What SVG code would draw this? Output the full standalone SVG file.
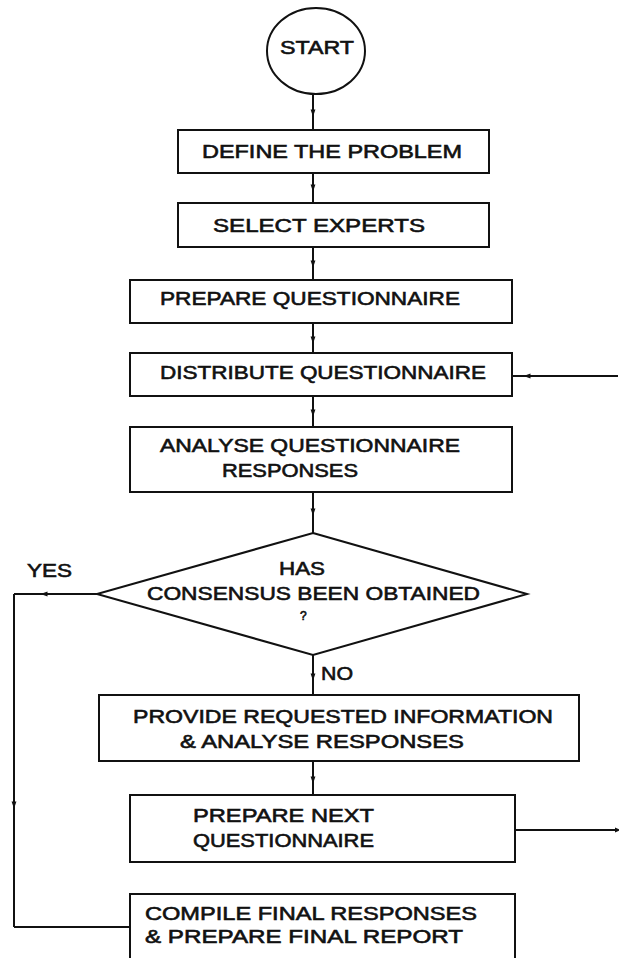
<svg xmlns="http://www.w3.org/2000/svg" width="619" height="958" viewBox="0 0 619 958">
<style>
.box{fill:#fff;stroke:#111;stroke-width:2}
.ln{fill:none;stroke:#111;stroke-width:2}
.t{font-family:"Liberation Sans",Arial,sans-serif;font-weight:normal;font-size:19px;fill:#111;stroke:#111;stroke-width:0.6}
</style>
<defs>
<marker id="ah" viewBox="0 0 10 10" refX="5" refY="5" markerWidth="6" markerHeight="6" orient="auto" markerUnits="userSpaceOnUse">
<path d="M0,1 L10,5 L0,9 Z" fill="#111"/>
</marker>
<marker id="ahb" viewBox="0 0 10 10" refX="5" refY="5" markerWidth="8" markerHeight="7" orient="auto" markerUnits="userSpaceOnUse">
<path d="M0,1.5 L10,5 L0,8.5 Z" fill="#111"/>
</marker>
</defs>
<rect width="619" height="958" fill="#fff"/>
<g id="connectors">
<path class="ln" d="M313,94 L313,113 L313,130" marker-mid="url(#ahb)"/>
<path class="ln" d="M313,173 L313,188 L313,203" marker-mid="url(#ahb)"/>
<path class="ln" d="M313,247 L313,264 L313,280" marker-mid="url(#ahb)"/>
<path class="ln" d="M313,323 L313,340 L313,353" marker-mid="url(#ahb)"/>
<path class="ln" d="M313,396 L313,413 L313,427" marker-mid="url(#ahb)"/>
<path class="ln" d="M313,492 L313,512 L313,533" marker-mid="url(#ahb)"/>
<path class="ln" d="M313,655 L313,677 L313,695" marker-mid="url(#ahb)"/>
<path class="ln" d="M313,761 L313,780 L313,795" marker-mid="url(#ahb)"/>
<path class="ln" d="M618,376 L527,376 L512,376" marker-mid="url(#ahb)"/>
<path class="ln" d="M515,830 L618,830" marker-end="url(#ah)"/>
<path class="ln" d="M97,594 L44,594 L14,594" marker-mid="url(#ahb)"/>
<path class="ln" d="M14,594 L14,805 L14,927" marker-mid="url(#ahb)"/>
<path class="ln" d="M14,927 L130,927"/>
</g>
<g id="start">
<ellipse class="box" cx="316" cy="51" rx="49" ry="43"/>
<text class="t" x="280" y="54" textLength="74" lengthAdjust="spacingAndGlyphs">START</text>
</g>
<g id="define">
<rect class="box" x="178" y="130" width="311" height="43"/>
<text class="t" x="202" y="158" textLength="260" lengthAdjust="spacingAndGlyphs">DEFINE THE PROBLEM</text>
</g>
<g id="select">
<rect class="box" x="178" y="203" width="311" height="44"/>
<text class="t" x="213" y="232" textLength="212" lengthAdjust="spacingAndGlyphs">SELECT EXPERTS</text>
</g>
<g id="prepare">
<rect class="box" x="130" y="280" width="382" height="43"/>
<text class="t" x="160" y="305" textLength="300" lengthAdjust="spacingAndGlyphs">PREPARE QUESTIONNAIRE</text>
</g>
<g id="distribute">
<rect class="box" x="130" y="353" width="382" height="43"/>
<text class="t" x="160" y="379" textLength="326" lengthAdjust="spacingAndGlyphs">DISTRIBUTE QUESTIONNAIRE</text>
</g>
<g id="analyse">
<rect class="box" x="130" y="427" width="382" height="65"/>
<text class="t" x="160" y="452" textLength="300" lengthAdjust="spacingAndGlyphs">ANALYSE QUESTIONNAIRE</text>
<text class="t" x="222" y="477" textLength="136" lengthAdjust="spacingAndGlyphs">RESPONSES</text>
</g>
<g id="decision">
<polygon class="box" points="313,533 527,594 313,655 97,594"/>
<text class="t" x="279" y="575" textLength="46" lengthAdjust="spacingAndGlyphs">HAS</text>
<text class="t" x="147" y="600" textLength="333" lengthAdjust="spacingAndGlyphs">CONSENSUS BEEN OBTAINED</text>
<text class="t" x="300" y="620" style="font-size:12px">?</text>
</g>
<g id="labels">
<text class="t" x="27" y="577" textLength="45" lengthAdjust="spacingAndGlyphs">YES</text>
<text class="t" x="321" y="680" textLength="32" lengthAdjust="spacingAndGlyphs">NO</text>
</g>
<g id="provide">
<rect class="box" x="99" y="695" width="480" height="66"/>
<text class="t" x="133" y="723" textLength="420" lengthAdjust="spacingAndGlyphs">PROVIDE REQUESTED INFORMATION</text>
<text class="t" x="180" y="748" textLength="284" lengthAdjust="spacingAndGlyphs">&amp; ANALYSE RESPONSES</text>
</g>
<g id="next">
<rect class="box" x="130" y="795" width="385" height="67"/>
<text class="t" x="193" y="822" textLength="181" lengthAdjust="spacingAndGlyphs">PREPARE NEXT</text>
<text class="t" x="193" y="847" textLength="181" lengthAdjust="spacingAndGlyphs">QUESTIONNAIRE</text>
</g>
<g id="compile">
<rect class="box" x="130" y="894" width="385" height="80"/>
<text class="t" x="145" y="920" textLength="332" lengthAdjust="spacingAndGlyphs">COMPILE FINAL RESPONSES</text>
<text class="t" x="145" y="943" textLength="318" lengthAdjust="spacingAndGlyphs">&amp; PREPARE FINAL REPORT</text>
</g>
</svg>
